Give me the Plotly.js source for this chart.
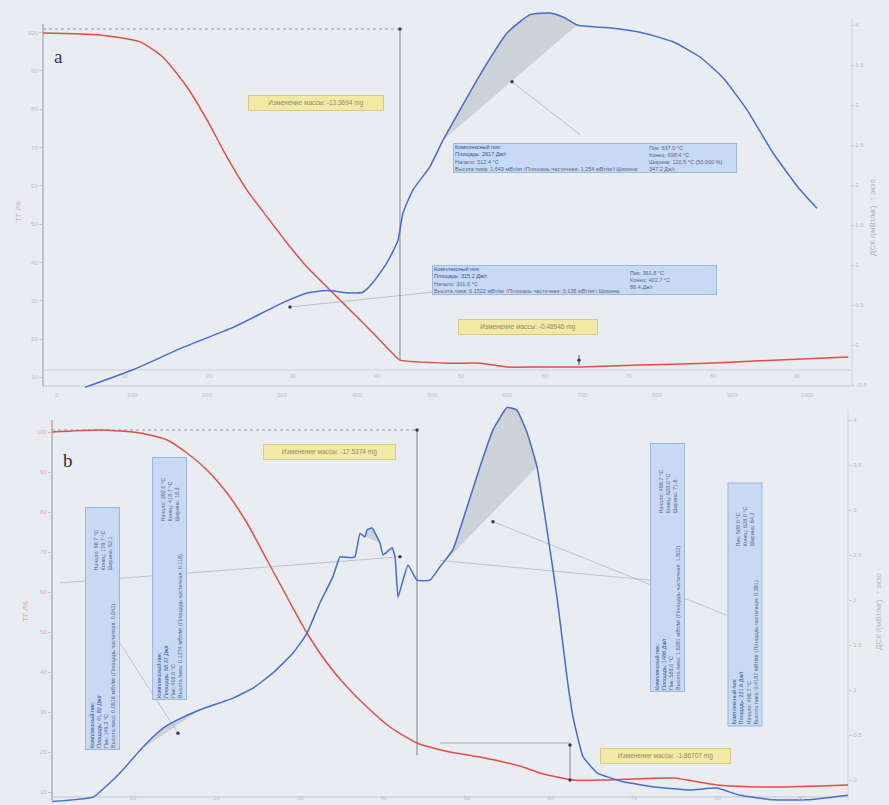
<!DOCTYPE html>
<html>
<head>
<meta charset="utf-8">
<script src="https://cdn.plot.ly/plotly-3.0.1.min.js"></script>
<style>
  html, body { margin: 0; padding: 0; background: #e9ecf0; }
  #chart { width: 889px; height: 805px; }
</style>
</head>
<body>
<div id="chart"></div>
<script>
// ---- Panel a: TG (%) and DSC (mW/mg) versus temperature (°C) ----
const TEMP_A_TG = [-18.7, 57.3, 110.7, 141.3, 173.3, 200, 226.7, 253.3, 280, 306.7, 333.3, 364, 390.7, 421.3, 453.3, 457.3, 524, 564, 600, 644, 697.3, 777.3, 866.7, 954.7, 1055];
const TG_A      = [99.9, 99.4, 97.6, 93.6, 85.8, 77.2, 67.5, 58.9, 51.9, 45.1, 38.8, 32.8, 27.6, 21.6, 15.1, 14.5, 13.7, 13.7, 12.7, 12.7, 12.7, 13.2, 13.7, 14.5, 15.3];

const TEMP_A_DSC = [37.3, 101.3, 168, 234.7, 301.3, 333.3, 360, 390.7, 408, 421.3, 440, 454.7, 461.3, 474.7, 497.3, 514.7, 537.3, 568, 600, 630.7, 657.3, 674.7, 693.3, 710.7, 741.3, 777.3, 821.3, 857.3, 888, 920, 954.7, 990.7, 1013.3];
const DSC_A      = [-0.53, -0.31, -0.03, 0.22, 0.53, 0.65, 0.68, 0.65, 0.66, 0.78, 1.03, 1.31, 1.65, 1.94, 2.23, 2.56, 2.94, 3.44, 3.90, 4.13, 4.15, 4.10, 4.00, 3.98, 3.96, 3.91, 3.79, 3.60, 3.34, 2.94, 2.40, 1.94, 1.71];

const PEAKS_A = [[514.7, 693.3]];                 // integrated DSC peak limits, °C
const MASS_STEP_A = [457.3, 100.96, 14.5];        // temperature, upper and lower TG level
const MASS_MARK_A = [696, 15.8, 13.2];
const TG_MARKS_A  = { t: [457.3, 696], v: [100.96, 14.5] };
const DSC_MARKS_A = { t: [606.7, 310.7], v: [3.29, 0.475] };
const LEADERS_A = [[606.7, 3.29, 697.3, 2.63], [310.7, 0.475, 500, 0.66]];

// ---- Panel b ----
const TEMP_B_TG = [-18.7, 45.3, 98.7, 134.7, 161.3, 188, 214.7, 241.3, 268, 294.7, 321.3, 348, 374.7, 401.3, 432, 468, 512, 552, 609.3, 632, 676, 721.3, 809.3, 868, 942.7, 1042.7];
const TG_B      = [100, 100.5, 99.75, 98, 94.75, 90.5, 84.75, 77.25, 68, 58.75, 49.75, 42.25, 36.25, 31.25, 26.25, 22.25, 20, 18.75, 16.25, 14.75, 13, 13, 13.5, 11.75, 11.25, 11.75];

const TEMP_B_DSC = [-18.7, 36, 58.7, 78.7, 98.7, 118.7, 132, 149.3, 178.7, 222.7, 249.3, 276, 302.7, 321.3, 338.7, 356, 365.3, 378.7, 385.3, 392, 398.7, 401.3, 408, 418.7, 422.7, 434.7, 438.7, 442.7, 449.3, 456, 468, 485.3, 498.7, 516, 534.7, 552, 569.3, 588, 601.3, 614.7, 628, 641.3, 654.7, 668, 676, 689.3, 708, 742.7, 788, 832, 868, 898.7, 942.7, 988, 1022.7, 1042.7];
const DSC_B      = [-0.24, -0.19, -0.03, 0.14, 0.33, 0.50, 0.59, 0.67, 0.78, 0.91, 1.02, 1.19, 1.41, 1.63, 1.97, 2.26, 2.48, 2.47, 2.48, 2.74, 2.70, 2.78, 2.80, 2.63, 2.50, 2.58, 2.48, 2.03, 2.22, 2.39, 2.22, 2.22, 2.37, 2.56, 3.03, 3.48, 3.89, 4.14, 4.11, 3.86, 3.48, 2.78, 2.03, 1.14, 0.70, 0.26, 0.08, -0.02, -0.08, -0.11, -0.09, -0.17, -0.22, -0.22, -0.19, -0.17];

const PEAKS_B = [[98.7, 178.7], [392, 418.7], [498.7, 628]];
const MASS_STEP_B = [468, 100.5, 19.25];
const MASS_MARK_B = [672, 21.75, 13];
const MASS_LINK_B = [498.7, 672, 22.25];
const TG_MARKS_B  = { t: [468, 672, 672], v: [100.5, 21.75, 13] };
const DSC_MARKS_B = { t: [569.3, 149.3, 445.3], v: [2.87, 0.52, 2.48] };
const LEADERS_B = [[72, 1.52, 149.3, 0.52], [-8, 2.19, 445.3, 2.48], [498.7, 2.44, 778.7, 2.22], [569.3, 2.87, 881.3, 1.83]];

// axis ticks (temperature in °C, time in min)
const TEMP_TICKS = [0, 100, 200, 300, 400, 500, 600, 700, 800, 900, 1000];
const TIME_TICKS = [10, 20, 30, 40, 50, 60, 70, 80, 90];

// evaluation texts
const MASS_TEXT = {
  a1: 'Изменение массы: -13.3694 mg',
  a2: 'Изменение массы: -0.48946 mg',
  b1: 'Изменение массы: -17.5374 mg',
  b2: 'Изменение массы: -1.86707 mg'
};
const PEAK_TEXT_A1 = ['Комплексный пик:', 'Площадь: 2617 Дж/г', 'Начало: 512.4 °C',
  'Высота пика: 1.643 мВт/мг (Площадь частичная: 1.254 мВт/мг) Ширина:'];
const PEAK_RIGHT_A1 = ['Пик: 637.0 °C', 'Конец: 698.4 °C', 'Ширина: 120.5 °C (50.000 %)', '347.2 Дж/г'];
const PEAK_TEXT_A2 = ['Комплексный пик:', 'Площадь: 315.2 Дж/г', 'Начало: 301.6 °C',
  'Высота пика: 0.1522 мВт/мг (Площадь частичная: 0.138 мВт/мг) Ширина:'];
const PEAK_RIGHT_A2 = ['Пик: 361.8 °C', 'Конец: 402.7 °C', '88.4 Дж/г', ''];
const PEAK_TEXT_B = [
  ['Комплексный пик:', 'Площадь: 41.82 Дж/г', 'Пик: 149.3 °C', 'Высота пика: 0.0516 мВт/мг (Площадь частичная: 0.042)'],
  ['Комплексный пик:', 'Площадь: 58.37 Дж/г', 'Пик: 408.0 °C', 'Высота пика: 0.1274 мВт/мг (Площадь частичная: 0.118)'],
  ['Комплексный пик:', 'Площадь: 1486 Дж/г', 'Пик: 588.0 °C', 'Высота пика: 1.6381 мВт/мг (Площадь частичная: 1.502)'],
  ['Комплексный пик:', 'Площадь: 221.6 Дж/г', 'Начало: 498.7 °C', 'Высота пика: 0.4187 мВт/мг (Площадь частичная: 0.391)']
];
const PEAK_RIGHT_B = [
  ['Начало: 98.7 °C', 'Конец: 178.7 °C', 'Ширина: 52.1', ''],
  ['Начало: 392.0 °C', 'Конец: 418.7 °C', 'Ширина: 18.3', ''],
  ['Начало: 498.7 °C', 'Конец: 628.0 °C', 'Ширина: 71.6', ''],
  ['Пик: 588.0 °C', 'Конец: 628.0 °C', 'Ширина: 64.2', '']
];

// ---- styling ----
const RED = 'rgb(222,80,74)';
const BLUE = 'rgb(70,110,205)';
const FAINT = '#bcc0c8';
const W = 889, H = 805;
const fx = p => p / W;
const fy = p => 1 - p / H;

function segment(xs, ys, lo, hi) {
  const sx = [], sy = [];
  xs.forEach((x, i) => { if (x >= lo && x <= hi) { sx.push(x); sy.push(ys[i]); } });
  return { x: sx, y: sy };
}

const traces = [];
function shadeTraces(xs, ys, peaks, xa, ya) {
  peaks.forEach(([lo, hi]) => {
    const s = segment(xs, ys, lo, hi);
    traces.push({
      x: s.x, y: s.y, xaxis: xa, yaxis: ya, type: 'scatter', mode: 'lines',
      fill: 'toself', fillcolor: 'rgba(160,165,176,0.38)',
      line: { color: 'rgba(120,125,135,0.6)', width: 0.6 },
      hoverinfo: 'skip', showlegend: false
    });
  });
}
shadeTraces(TEMP_A_DSC, DSC_A, PEAKS_A, 'x', 'y2');
shadeTraces(TEMP_B_DSC, DSC_B, PEAKS_B, 'x2', 'y4');

function curve(x, y, xa, ya, color, smooth) {
  traces.push({
    x, y, xaxis: xa, yaxis: ya, type: 'scatter', mode: 'lines',
    line: { color, width: 1.5, shape: 'spline', smoothing: smooth },
    hoverinfo: 'skip', showlegend: false
  });
}
curve(TEMP_A_TG, TG_A, 'x', 'y', RED, 0.6);
curve(TEMP_A_DSC, DSC_A, 'x', 'y2', BLUE, 0.5);
curve(TEMP_B_TG, TG_B, 'x2', 'y3', RED, 0.6);
curve(TEMP_B_DSC, DSC_B, 'x2', 'y4', BLUE, 0.35);

function marks(m, xa, ya) {
  traces.push({
    x: m.t, y: m.v, xaxis: xa, yaxis: ya, type: 'scatter', mode: 'markers',
    marker: { size: 3.5, color: '#3c3f46' }, hoverinfo: 'skip', showlegend: false
  });
}
marks(TG_MARKS_A, 'x', 'y');
marks(DSC_MARKS_A, 'x', 'y2');
marks(TG_MARKS_B, 'x2', 'y3');
marks(DSC_MARKS_B, 'x2', 'y4');

// empty carriers so the time axes get drawn
['x3', 'x4'].forEach((xa, i) => traces.push({
  x: [TIME_TICKS[0]], y: [null], xaxis: xa, yaxis: i ? 'y3' : 'y',
  type: 'scatter', mode: 'markers', marker: { opacity: 0 }, hoverinfo: 'skip', showlegend: false
}));

// ---- axes ----
const tickFont = { family: 'Liberation Sans, Arial, sans-serif', size: 6, color: FAINT };
const baseAxis = { showgrid: false, zeroline: false, showline: false, tickfont: tickFont, fixedrange: true };

const layout = {
  width: W, height: H, autosize: false,
  margin: { l: 0, r: 0, t: 0, b: 0, pad: 0 },
  paper_bgcolor: '#e9ecf0', plot_bgcolor: 'rgba(0,0,0,0)',
  font: { family: 'Liberation Sans, Arial, sans-serif' },
  showlegend: false,
  xaxis: Object.assign({}, baseAxis, {
    domain: [fx(43), fx(850)], range: [-18.67, 1057.33], anchor: 'y',
    tickvals: TEMP_TICKS, ticks: ''
  }),
  yaxis: Object.assign({}, baseAxis, {
    domain: [fy(390), fy(8)], range: [6.70, 106.44], anchor: 'x', side: 'left',
    dtick: 10, ticks: 'outside', ticklen: 3, tickcolor: '#c3c7ce'
  }),
  yaxis2: Object.assign({}, baseAxis, {
    overlaying: 'y', anchor: 'x', side: 'right', range: [-0.5625, 4.2125],
    dtick: 0.5, ticks: 'outside', ticklen: 3, tickcolor: '#c8ccd3'
  }),
  xaxis3: Object.assign({}, baseAxis, {
    overlaying: 'x', anchor: 'free', position: fy(371), side: 'bottom',
    range: [0.238, 96.31], tickvals: TIME_TICKS, ticks: ''
  }),
  xaxis2: Object.assign({}, baseAxis, {
    domain: [fx(52), fx(848)], range: [-18.67, 1042.67], anchor: 'y3',
    tickvals: TEMP_TICKS, showticklabels: false, ticks: ''
  }),
  yaxis3: Object.assign({}, baseAxis, {
    domain: [fy(803), fy(400)], range: [7.25, 108], anchor: 'x2', side: 'left',
    dtick: 10, ticks: 'outside', ticklen: 3, tickcolor: '#e2b7b7',
    tickfont: Object.assign({}, tickFont, { color: '#d9b3b5' })
  }),
  yaxis4: Object.assign({}, baseAxis, {
    overlaying: 'y3', anchor: 'x2', side: 'right', range: [-0.2556, 4.2222],
    dtick: 0.5, ticks: 'outside', ticklen: 3, tickcolor: '#c8ccd3'
  }),
  xaxis4: Object.assign({}, baseAxis, {
    overlaying: 'x2', anchor: 'free', position: fy(793), side: 'bottom',
    range: [0.30, 95.63], tickvals: TIME_TICKS, ticks: ''
  })
};

// ---- frame lines, mass-change steps and leader lines ----
const paperLine = (x0, y0, x1, y1, color, dash) => ({
  type: 'line', xref: 'paper', yref: 'paper', x0: fx(x0), y0: fy(y0), x1: fx(x1), y1: fy(y1),
  line: { color, width: 1, dash: dash || 'solid' }, layer: 'below'
});
const dataLine = (xr, yr, x0, y0, x1, y1, color, dash, w) => ({
  type: 'line', xref: xr, yref: yr, x0, y0, x1, y1,
  line: { color, width: w || 1, dash: dash || 'solid' }, layer: 'below'
});

layout.shapes = [
  paperLine(43, 24, 43, 387, '#8d939e'),
  paperLine(43, 370, 850, 370, '#cdd1d8'),
  paperLine(43, 386, 850, 386, '#c5c9d0'),
  paperLine(852, 18, 852, 386, '#d2d6dc'),
  paperLine(52, 420, 52, 800, '#8d939e'),
  paperLine(52, 797, 848, 797, '#c5c9d0'),
  paperLine(848, 410, 848, 800, '#d2d6dc'),

  dataLine('x', 'y', TEMP_A_TG[0], MASS_STEP_A[1], MASS_STEP_A[0], MASS_STEP_A[1], '#9097a2', 'dot'),
  dataLine('x', 'y', MASS_STEP_A[0], MASS_STEP_A[1], MASS_STEP_A[0], MASS_STEP_A[2], '#7f8692'),
  dataLine('x', 'y', MASS_MARK_A[0], MASS_MARK_A[1], MASS_MARK_A[0], MASS_MARK_A[2], '#555a63'),
  dataLine('x2', 'y3', TEMP_B_TG[0], MASS_STEP_B[1], MASS_STEP_B[0], MASS_STEP_B[1], '#9097a2', 'dot'),
  dataLine('x2', 'y3', MASS_STEP_B[0], MASS_STEP_B[1], MASS_STEP_B[0], MASS_STEP_B[2], '#7f8692'),
  dataLine('x2', 'y3', MASS_MARK_B[0], MASS_MARK_B[1], MASS_MARK_B[0], MASS_MARK_B[2], '#7f8692'),
  dataLine('x2', 'y3', MASS_LINK_B[0], MASS_LINK_B[2], MASS_LINK_B[1], MASS_LINK_B[2], '#a9aeb7')
];
LEADERS_A.forEach(l => layout.shapes.push(dataLine('x', 'y2', l[0], l[1], l[2], l[3], 'rgba(130,135,145,0.55)', 'solid', 0.8)));
LEADERS_B.forEach(l => layout.shapes.push(dataLine('x2', 'y4', l[0], l[1], l[2], l[3], 'rgba(130,135,145,0.5)', 'solid', 0.8)));

// ---- annotations: panel letters, axis titles, result boxes ----
const ann = [];
const txt = (x, y, text, opts) => ann.push(Object.assign({
  xref: 'paper', yref: 'paper', x: fx(x), y: fy(y), text, showarrow: false,
  xanchor: 'center', yanchor: 'middle'
}, opts || {}));

txt(58, 57, 'a', { font: { family: 'Liberation Serif, DejaVu Serif, serif', size: 19, color: '#33363c' } });
txt(68, 460, 'b', { font: { family: 'Liberation Serif, DejaVu Serif, serif', size: 19, color: '#33363c' } });

txt(18, 212, 'ТГ /%', { textangle: -90, font: { size: 8, color: '#cdb2b8' } });
txt(25, 612, 'ТГ /%', { textangle: -90, font: { size: 8, color: '#e0a2a4' } });
txt(872, 218, 'ДСК /(мВт/мг)  ↑ экзо', { textangle: -90, font: { size: 8, color: '#a9b6cc' } });
txt(878, 612, 'ДСК /(мВт/мг)  ↑ экзо', { textangle: -90, font: { size: 8, color: '#adbbd4' } });

const yellow = (cx, cy, w, text) => txt(cx, cy, text, {
  width: w, height: 12, bgcolor: '#f2eaa4', bordercolor: '#d5cb86', borderwidth: 1, borderpad: 1,
  font: { size: 6.5, color: '#8f8a66' }
});
yellow(315.5, 103, 132, MASS_TEXT.a1);
yellow(527.5, 327, 136, MASS_TEXT.a2);
yellow(329, 452, 129, MASS_TEXT.b1);
yellow(665, 756, 127, MASS_TEXT.b2);

const linesHtml = (lines) => lines.map((s, i) =>
  i < 2 ? '<span style="color:#2e4f9e">' + s + '</span>' : s).join('<br>');

const blueFont = { size: 5.5, color: '#59688a' };
function blueBox(cx, cy, long, short, vertical, lines, right, rx, ry) {
  txt(cx, cy, linesHtml(lines), {
    width: long - 4, height: short - 4, align: 'left', valign: 'middle',
    textangle: vertical ? -90 : 0,
    bgcolor: '#c7d9f3', bordercolor: '#9db6dc', borderwidth: 1, borderpad: 1,
    font: blueFont
  });
  txt(rx, ry, right.join('<br>'), {
    align: 'left', textangle: vertical ? -90 : 0,
    xanchor: vertical ? 'center' : 'left', font: blueFont
  });
}
blueBox(595, 158, 284, 30, false, PEAK_TEXT_A1, PEAK_RIGHT_A1, 647, 158);
blueBox(574.5, 280, 285, 30, false, PEAK_TEXT_A2, PEAK_RIGHT_A2, 628, 280);
blueBox(102.5, 628.5, 243, 35, true, PEAK_TEXT_B[0], PEAK_RIGHT_B[0], 102.5, 550);
blueBox(169.5, 578.5, 243, 35, true, PEAK_TEXT_B[1], PEAK_RIGHT_B[1], 169.5, 500);
blueBox(667.5, 567.5, 249, 35, true, PEAK_TEXT_B[2], PEAK_RIGHT_B[2], 667.5, 492);
blueBox(744.5, 605, 244, 35, true, PEAK_TEXT_B[3], PEAK_RIGHT_B[3], 744.5, 527);

layout.annotations = ann;

Plotly.newPlot('chart', traces, layout, { staticPlot: true, displayModeBar: false });
</script>
</body>
</html>
